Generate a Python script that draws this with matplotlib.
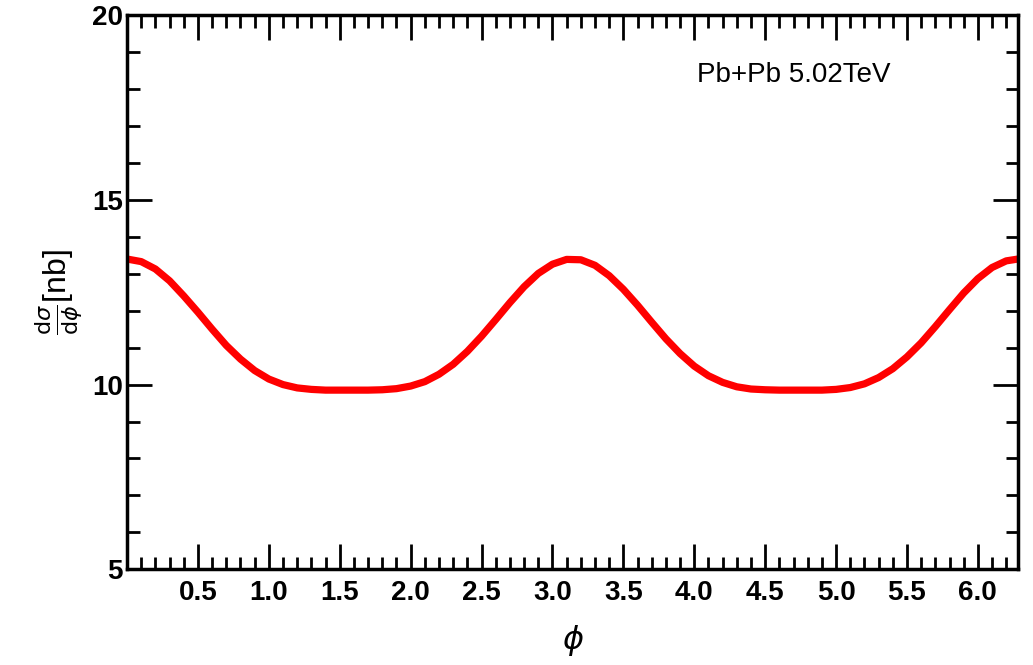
import numpy as np
import matplotlib
matplotlib.use('Agg')
import matplotlib.pyplot as plt
from matplotlib.ticker import MultipleLocator

# values
phi = [0.0, 0.1, 0.2, 0.3, 0.4, 0.5, 0.6, 0.7, 0.8, 0.9,
       1.0, 1.1, 1.2, 1.3, 1.4, 1.5, 1.6, 1.7, 1.8, 1.9,
       2.0, 2.1, 2.2, 2.3, 2.4, 2.5, 2.6, 2.7, 2.8, 2.9,
       3.0, 3.1, 3.2, 3.3, 3.4, 3.5, 3.6, 3.7, 3.8, 3.9,
       4.0, 4.1, 4.2, 4.3, 4.4, 4.5, 4.6, 4.7, 4.8, 4.9,
       5.0, 5.1, 5.2, 5.3, 5.4, 5.5, 5.6, 5.7, 5.8, 5.9,
       6.0, 6.1, 6.2, 6.283]
dsigma = [13.40, 13.33, 13.13, 12.81, 12.40, 11.96, 11.50, 11.06, 10.69, 10.38,
          10.15, 10.00, 9.91, 9.87, 9.85, 9.85, 9.85, 9.85, 9.86, 9.89,
          9.96, 10.08, 10.28, 10.55, 10.90, 11.31, 11.76, 12.22, 12.65, 13.01,
          13.26, 13.39, 13.38, 13.23, 12.95, 12.58, 12.15, 11.69, 11.24, 10.84,
          10.50, 10.24, 10.06, 9.94, 9.88, 9.86, 9.85, 9.85, 9.85, 9.85,
          9.87, 9.92, 10.02, 10.19, 10.43, 10.75, 11.13, 11.57, 12.03, 12.48,
          12.87, 13.17, 13.35, 13.40]

x_ticks = [0.5, 1.0, 1.5, 2.0, 2.5, 3.0, 3.5, 4.0, 4.5, 5.0, 5.5, 6.0]
y_ticks = [5, 10, 15, 20]

plt.rcParams['font.family'] = ['Liberation Sans', 'DejaVu Sans']
plt.rcParams['mathtext.fontset'] = 'dejavusans'

fig = plt.figure(figsize=(10.33, 6.65), dpi=100)
ax = fig.add_axes([0.123, 0.144, 0.8625, 0.833])

ax.plot(phi, dsigma, color='red', lw=5.2, solid_joinstyle='round')

ax.set_xlim(0, 2 * np.pi)
ax.set_ylim(5, 20)
ax.set_xticks(x_ticks)
ax.set_xticklabels(['%.1f' % v for v in x_ticks])
ax.set_yticks(y_ticks)
ax.xaxis.set_minor_locator(MultipleLocator(0.1))
ax.yaxis.set_minor_locator(MultipleLocator(1))

ax.tick_params(which='both', direction='in', top=True, right=True, width=2, color='black')
ax.tick_params(which='major', length=18)
ax.tick_params(which='minor', length=9)
ax.tick_params(axis='x', which='major', pad=8)
ax.tick_params(axis='y', which='major', pad=3)
for lab in ax.get_xticklabels() + ax.get_yticklabels():
    lab.set_fontsize(20)
    lab.set_fontweight('bold')
for s in ax.spines.values():
    s.set_linewidth(2.5)

ax.set_xlabel(r'$\phi$', fontsize=23, labelpad=12)
ax.set_ylabel(r'$\frac{\mathrm{d}\sigma}{\mathrm{d}\phi}$[nb]', fontsize=23, labelpad=6)

ax.text(0.64, 0.88, 'Pb+Pb 5.02TeV', transform=ax.transAxes, fontsize=20)

fig.savefig('out.png', dpi=100)
